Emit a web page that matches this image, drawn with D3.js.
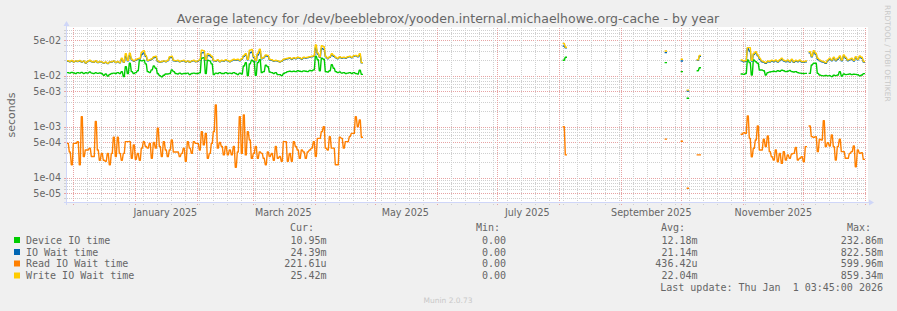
<!DOCTYPE html>
<html>
<head>
<meta charset="utf-8">
<script src="https://cdn.jsdelivr.net/npm/d3@7"></script>
<style>
body { margin: 0; background: #f0f0f0; }
</style>
</head>
<body>
<div class="canvas"></div>
<script>
// daily averages, values in ms (null = no data)
const seg1Start = '2024-11-28';
const deviceSeg1 = [11.5,11.2,11.6,11.3,11.0,11.5, 11.2,11.6,11.0,11.4,11.2,11.8, 11.2,11.0,11.4,11.1,11.3,11.0,
  10.2,10.8,9.8,10.6,11.0,11.2, 11.0,11.5,11.0,12.0,9.6,15.0, 11.0,17.5,12.0,11.0,11.5,12.5,
  20.0,19.5,20.0,17.0,12.0,11.5, 13.0,15.5,14.0,11.0,10.0,9.5, 10.2,10.8,10.8,11.0,13.0,12.0,
  11.0,10.8,11.2,10.8,11.0,11.0, 11.2,10.5,11.0,11.2,11.0,11.0, 11.4,22.0,22.5,11.0,20.0,19.5,
  17.0,10.5,11.2,11.0,11.5,11.0, 11.0,11.5,11.0,11.2,11.0,11.5, 11.0,10.5,11.2,10.8,15.5,18.0,
  10.0,17.0,20.0,19.0,10.2,18.0, 20.5,11.5,12.0,16.0,15.0,11.8, 11.5,11.0,11.5,10.5,10.5,10.0,
  11.0,11.5,12.0,12.2,12.0,12.2, 12.0,12.5,12.2,12.0,12.4,12.2, 12.0,12.6,12.5,13.0,24.0,20.5,
  12.5,22.0,21.0,12.0,11.8,12.5, 16.5,14.0,12.0,11.5,11.8,11.2, 11.5,11.0,11.2,11.5,11.0,11.5,
  11.0,10.8,12.8,10.6];
const ioWaitSeg1 = [19.2,18.8,19.4,18.6,19.2,19.0, 19.4,18.4,19.2,17.6,19.0,19.6, 18.8,18.3,19.2,18.0,18.8,18.4,
  17.6,18.2,17.2,18.4,18.5,19.2, 18.0,18.8,17.8,21.0,18.2,24.0, 19.6,25.0,20.5,19.2,20.0,21.0,
  21.5,26.0,28.0,24.0,19.6,20.0, 21.0,22.5,23.0,19.2,18.2,18.7, 19.2,18.8,19.6,22.5,23.0,19.6,
  19.2,19.6,18.8,19.2,19.6,18.5, 19.2,18.3,19.2,19.6,18.8,19.2, 20.0,28.0,28.5,20.0,25.0,24.5,
  23.0,19.6,19.2,20.0,18.8,19.6, 19.2,20.0,19.5,18.8,19.6,20.5, 20.0,20.5,19.6,21.0,24.0,25.5,
  20.5,28.0,29.0,23.0,19.6,25.5, 29.5,21.5,22.5,24.5,24.0,20.5, 20.0,19.2,19.6,19.2,18.5,19.2,
  20.5,21.0,21.5,22.0,21.0,22.0, 21.5,22.5,22.0,21.0,22.5,22.0, 22.5,23.0,23.5,24.0,35.0,26.5,
  23.0,34.0,33.0,23.5,21.5,23.0, 25.5,24.0,22.5,21.5,23.0,22.0, 22.5,22.0,23.0,23.5,22.5,24.0,
  24.5,23.5,25.0,17.8];
const readSeg1 = [0.47,0.32,0.18,0.47,0.47,0.51,0.18,1.57,0.26,0.35, 0.35,0.38,0.26,0.26,1.26,0.35,0.22,0.30,0.22,0.21,
  0.30,0.18,0.30,0.62,0.26,0.62,0.30,0.22,0.30,0.51, 0.51,0.51,0.24,0.44,0.23,0.30,0.22,0.38,0.51,0.41,
  0.38,0.47,0.24,0.49,0.38,0.93,0.41,0.26,0.51,0.35, 0.26,0.35,0.55,0.32,0.32,0.32,0.26,0.30,0.38,0.21,
  0.51,0.38,0.30,0.51,0.47,0.47,0.35,0.80,0.44,0.74, 0.24,0.30,0.47,0.80,2.66,0.38,0.49,0.41,0.28,0.41,
  0.28,0.35,0.28,0.41,0.16,0.32,1.57,0.30,1.70,0.28, 0.80,0.55,0.24,0.30,0.41,0.24,0.32,0.30,0.24,0.18,
  0.32,0.26,0.30,0.22,0.41,0.24,0.26,0.21,0.51,0.51, 0.21,0.30,0.21,0.51,0.41,0.35,0.24,0.35,0.32,0.24,
  0.32,0.35,0.38,0.51,0.26,0.59,0.59,0.80,1.00,0.38, 0.35,0.64,0.38,0.38,0.18,0.18,0.62,0.59,0.38,0.51,
  0.51,0.64,0.74,0.74,1.57,1.00,1.35,0.62];
const writeSeg1 = [19.6,19.0,19.8,18.8,19.5,19.2, 19.8,18.6,19.5,17.8,19.2,20.0, 19.0,18.5,19.6,18.2,19.0,18.6,
  17.8,18.5,17.4,18.6,18.8,19.5, 18.2,19.0,18.0,22.0,18.5,27.0, 20.0,27.5,21.0,19.5,20.5,21.5,
  22.0,29.0,31.0,25.0,20.0,20.5, 21.5,23.5,24.0,19.5,18.5,19.0, 19.5,19.0,20.0,23.5,24.0,20.0,
  19.5,20.0,19.0,19.5,20.0,18.8, 19.5,18.5,19.5,20.0,19.0,19.5, 20.5,31.5,31.0,20.5,27.0,26.0,
  24.0,20.0,19.5,20.5,19.0,20.0, 19.5,20.5,19.8,19.0,20.0,21.0, 20.5,21.0,20.0,21.5,25.0,27.0,
  21.0,31.5,32.5,24.0,20.0,27.5, 33.0,22.0,23.0,25.5,25.0,21.0, 20.5,19.5,20.0,19.5,18.8,19.5,
  21.0,21.5,22.0,22.5,21.5,22.5, 22.0,23.0,22.5,21.5,23.0,22.5, 23.0,23.5,24.0,24.5,40.0,28.0,
  23.5,38.5,37.0,24.0,22.0,23.5, 27.0,25.0,23.0,22.0,23.5,22.5, 23.0,22.5,23.5,24.0,23.0,24.5,
  25.0,24.0,27.0,18.0];

// scattered single days over the summer
const spotDates = ['2025-08-03','2025-08-04','2025-09-23','2025-10-01','2025-10-04','2025-10-09','2025-10-10'];
const deviceSpots = [20.0, 23.0, 18.0, 12.0, 3.6, 12.5, 14.3];
const ioWaitSpots = [38.0, 35.0, 28.3, 19.4, 5.0, 20.0, 24.0];
const readSpots   = [1.0, 0.28, 0.57, 0.52, 0.062, 0.28, 0.28];
const writeSpots  = [43.0, 36.0, 30.4, 21.0, 5.2, 20.5, 25.0];

const seg2Start = '2025-10-31';
const deviceSeg2 = [10.8,10.6,11.0,20.3,18.0,10.3,20.3,18.8,17.5,12.9,12.9,12.5,10.3,11.5,11.8,12.0,12.2,12.0,12.5,12.2,
  12.8,12.5,12.0,12.2,12.6,12.0,11.8,12.0,11.5,11.2,11.1,11.0,11.1, null,
  11.1,16.2,17.5,17.5,11.1,10.3,10.0,9.9,10.1,9.9,10.0,9.6,10.2,10.0,10.3,12.0,9.8,10.8,10.5,10.6,
  10.8,10.5,10.7,10.6,10.4,9.9,10.3,10.95];
const ioWaitSeg2 = [19.6,18.8,19.2,34.0,30.0,19.4,26.0,28.0,24.5,21.0,18.8,18.2,17.4,18.8,18.4,19.4,18.8,19.6,18.4,19.8,
  21.0,19.4,18.8,19.6,18.4,20.2,18.2,19.4,18.8,19.6,18.4,18.2,18.6, null,
  28.0,23.5,29.0,26.0,21.0,19.6,18.8,18.2,17.4,19.6,21.2,19.6,22.0,19.6,21.0,23.0,19.6,24.0,22.0,19.6,
  20.4,21.2,19.4,22.6,20.4,23.2,22.0,18.4];
const readSeg2 = [0.709,0.764,0.740,1.62,0.591,0.258,0.377,0.549,1.03,0.349,0.349,0.566,0.406,0.657,0.324,0.258,0.222,0.349,0.206,0.300,
  0.191,0.324,0.222,0.279,0.240,0.291,0.300,0.394,0.222,0.240,0.258,0.206,0.406, null,
  1.03,0.638,0.618,0.638,0.324,0.566,0.549,1.31,0.406,0.487,0.419,0.687,0.406,0.222,0.406,0.566,0.324,0.324,0.240,0.240,
  0.300,0.324,0.419,0.164,0.349,0.300,0.309,0.229];
const writeSeg2 = [20.3,19.4,19.8,35.4,35.4,20.0,27.5,29.5,25.5,22.0,19.5,18.8,18.0,19.4,19.0,20.0,19.4,20.3,19.0,20.5,
  22.0,20.0,19.4,20.3,19.0,21.0,18.8,20.0,19.4,20.3,19.0,18.8,19.4, null,
  29.5,24.3,30.9,27.5,22.0,20.3,19.4,18.8,18.0,20.3,22.0,20.3,22.9,20.3,22.0,24.3,20.3,25.5,22.9,20.3,
  21.0,22.0,20.0,23.6,21.0,24.3,22.9,19.0];

const seriesNames = ['Device IO time', 'IO Wait time', 'Read IO Wait time', 'Write IO Wait time'];
const seriesColors = ['#00cc00', '#0066b3', '#ff8000', '#ffcc00'];
const curVals = ['10.95m', '24.39m', '221.61u', '25.42m'];
const minVals = ['0.00', '0.00', '0.00', '0.00'];
const avgVals = ['12.18m', '21.14m', '436.42u', '22.04m'];
const maxVals = ['232.86m', '822.58m', '599.96m', '859.34m'];

const yTicks = [5e-2, 1e-2, 5e-3, 1e-3, 5e-4, 1e-4, 5e-5];
const yTickLabels = ['5e-02', '1e-02', '5e-03', '1e-03', '5e-04', '1e-04', '5e-05'];
const monthLabels = ['2025-01-01', '2025-03-01', '2025-05-01', '2025-07-01', '2025-09-01', '2025-11-01'];

const W = 897, H = 311;
const plotL = 67, plotR = 867, plotT = 28, plotB = 202;
const DAY = 864e5;
const sans = 'DejaVu Sans, sans-serif';
const mono = 'DejaVu Sans Mono, monospace';

const svg = d3.select('.canvas')
  .append('svg')
  .attr('width', W)
  .attr('height', H)
  .style('display', 'block');

svg.append('rect').attr('width', W).attr('height', H).attr('fill', '#f0f0f0');

const x = d3.scaleUtc()
  .domain([new Date(Date.UTC(2024, 10, 27, 20, 24)), new Date(Date.UTC(2026, 0, 1, 20, 24))])
  .range([plotL, plotR]);
const y = d3.scaleLog()
  .domain([3.34e-5, 8.6e-2])
  .range([plotB, plotT]);

// canvas
svg.append('rect')
  .attr('x', plotL).attr('y', plotT - 1)
  .attr('width', plotR - plotL + 1).attr('height', plotB - plotT + 2)
  .attr('fill', '#ffffff');

const grid = svg.append('g').attr('shape-rendering', 'crispEdges');

// horizontal grid
const minorY = [], majorY = [];
for (let e = -5; e <= -2; e++) {
  for (let k = 1; k <= 9; k++) {
    const v = k * Math.pow(10, e);
    if (v < y.domain()[0] || v > y.domain()[1]) continue;
    (k === 1 || k === 5 ? majorY : minorY).push(v);
  }
}
grid.selectAll('.hminor').data(minorY).enter().append('line')
  .attr('x1', plotL).attr('x2', plotR)
  .attr('y1', d => Math.round(y(d)) + 0.5).attr('y2', d => Math.round(y(d)) + 0.5)
  .attr('stroke', '#cfcfcf').attr('stroke-dasharray', '1,1');
grid.selectAll('.hmajor').data(majorY).enter().append('line')
  .attr('x1', plotL).attr('x2', plotR)
  .attr('y1', d => Math.round(y(d)) + 0.5).attr('y2', d => Math.round(y(d)) + 0.5)
  .attr('stroke', '#e7a3a3').attr('stroke-dasharray', '1,1');

// vertical grid: weeks (minor), months (major)
const weeks = d3.utcSunday.range(x.domain()[0], x.domain()[1]);
const months = d3.utcMonth.range(x.domain()[0], x.domain()[1]);
const monthSet = new Set(months.map(d => d.getTime()));
const minorX = weeks.filter(d => !monthSet.has(d.getTime()));
grid.selectAll('.vminor').data(minorX).enter().append('line')
  .attr('x1', d => Math.round(x(d)) + 0.5).attr('x2', d => Math.round(x(d)) + 0.5)
  .attr('y1', plotT).attr('y2', plotB + 3)
  .attr('stroke', '#cfcfcf').attr('stroke-dasharray', '1,1');
grid.selectAll('.vmajor').data(months).enter().append('line')
  .attr('x1', d => Math.round(x(d)) + 0.5).attr('x2', d => Math.round(x(d)) + 0.5)
  .attr('y1', plotT).attr('y2', plotB + 3)
  .attr('stroke', '#e7a3a3').attr('stroke-dasharray', '1,1');

// y ticks on the axis
grid.selectAll('.ytick').data(minorY.concat(majorY)).enter().append('line')
  .attr('x1', plotL - 3).attr('x2', plotL)
  .attr('y1', d => Math.round(y(d)) + 0.5).attr('y2', d => Math.round(y(d)) + 0.5)
  .attr('stroke', d => majorY.includes(d) ? '#e7a3a3' : '#cfcfcf');

// build daily series
function seg(start, vals) {
  const t0 = Date.parse(start + 'T00:00:00Z');
  return vals.map((v, i) => ({ t: t0 + i * DAY, v: v == null ? null : v / 1000 }));
}
function spots(vals) {
  return spotDates.map((s, i) => ({ t: Date.parse(s + 'T00:00:00Z'), v: vals[i] / 1000 }));
}
function series(a, b, c) {
  const byDay = new Map();
  a.concat(b, c).forEach(p => byDay.set(p.t, p.v));
  const t0 = d3.min(a, p => p.t), t1 = d3.max(c, p => p.t);
  const pts = [];
  for (let t = t0; t <= t1; t += DAY) {
    const v = byDay.has(t) ? byDay.get(t) : null;
    // each daily value holds flat for half a step, then slopes to the next one
    pts.push({ t: t, v: v });
    pts.push({ t: t + DAY * 0.5, v: v });
  }
  return pts;
}

const allSeries = [
  series(seg(seg1Start, deviceSeg1), spots(deviceSpots), seg(seg2Start, deviceSeg2)),
  series(seg(seg1Start, ioWaitSeg1), spots(ioWaitSpots), seg(seg2Start, ioWaitSeg2)),
  series(seg(seg1Start, readSeg1), spots(readSpots), seg(seg2Start, readSeg2)),
  series(seg(seg1Start, writeSeg1), spots(writeSpots), seg(seg2Start, writeSeg2))
];

const line = d3.line()
  .defined(d => d.v != null)
  .x(d => x(new Date(d.t)))
  .y(d => y(d.v));

svg.append('g').selectAll('path')
  .data(allSeries)
  .enter()
  .append('path')
  .attr('d', line)
  .attr('fill', 'none')
  .attr('stroke', (d, i) => seriesColors[i])
  .attr('stroke-width', 1.4)
  .attr('stroke-linecap', 'square')
  .attr('stroke-linejoin', 'round');

// axes with arrows
const axisColor = '#cfd6f8';
const axes = svg.append('g').attr('shape-rendering', 'crispEdges');
axes.append('line').attr('x1', plotL - 0.5).attr('x2', plotL - 0.5).attr('y1', plotB + 3).attr('y2', plotT - 4)
  .attr('stroke', axisColor);
axes.append('line').attr('x1', plotL - 3).attr('x2', plotR + 3).attr('y1', plotB + 0.5).attr('y2', plotB + 0.5)
  .attr('stroke', axisColor);
svg.append('path')
  .attr('d', `M${plotL - 3.5},${plotT - 2} L${plotL - 0.5},${plotT - 7} L${plotL + 2.5},${plotT - 2} Z`)
  .attr('fill', axisColor);
svg.append('path')
  .attr('d', `M${plotR + 2},${plotB - 2.5} L${plotR + 7},${plotB + 0.5} L${plotR + 2},${plotB + 3.5} Z`)
  .attr('fill', axisColor);

// y labels
svg.append('g').selectAll('text')
  .data(yTicks)
  .enter()
  .append('text')
  .attr('x', 61)
  .attr('y', d => y(d) + 3.5)
  .attr('text-anchor', 'end')
  .attr('font-family', sans)
  .attr('font-size', 9.6)
  .attr('fill', '#666')
  .text((d, i) => yTickLabels[i]);

// x labels, centred in the month
svg.append('g').selectAll('text')
  .data(monthLabels)
  .enter()
  .append('text')
  .attr('x', d => x(new Date(Date.parse(d + 'T00:00:00Z') + 15 * DAY)))
  .attr('y', 216)
  .attr('text-anchor', 'middle')
  .attr('font-family', sans)
  .attr('font-size', 9.6)
  .attr('fill', '#666')
  .text(d => d3.utcFormat('%B %Y')(new Date(d + 'T00:00:00Z')));

// title
svg.append('text')
  .attr('x', 448).attr('y', 23)
  .attr('text-anchor', 'middle')
  .attr('font-family', sans)
  .attr('font-size', 12.5)
  .attr('fill', '#666')
  .text('Average latency for /dev/beeblebrox/yooden.internal.michaelhowe.org-cache - by year');

svg.append('text')
  .attr('transform', `translate(15,${(plotT + plotB) / 2}) rotate(-90)`)
  .attr('text-anchor', 'middle')
  .attr('font-family', sans)
  .attr('font-size', 11)
  .attr('fill', '#666')
  .text('seconds');

svg.append('text')
  .attr('transform', 'translate(885,5) rotate(90)')
  .attr('font-family', sans)
  .attr('font-size', 7.5)
  .attr('fill', '#c8c8c8')
  .text('RRDTOOL / TOBI OETIKER');

// legend
const legend = svg.append('g')
  .attr('font-family', mono)
  .attr('font-size', 10)
  .attr('fill', '#666');

const headers = [['Cur:', 290], ['Min:', 476], ['Avg:', 661], ['Max:', 847]];
headers.forEach(h => legend.append('text').attr('x', h[1]).attr('y', 231).text(h[0]));

const rowY = [240, 252, 263.5, 275.5];
const cols = [[curVals, 326.5], [minVals, 506], [avgVals, 697.5], [maxVals, 883]];
seriesNames.forEach((name, i) => {
  legend.append('rect')
    .attr('x', 14).attr('y', rowY[i] - 3)
    .attr('width', 6).attr('height', 6)
    .attr('fill', seriesColors[i]);
  legend.append('text').attr('x', 26).attr('y', rowY[i] + 3.5).text(name);
  cols.forEach(c => {
    legend.append('text')
      .attr('x', c[1]).attr('y', rowY[i] + 3.5)
      .attr('text-anchor', 'end')
      .text(c[0][i]);
  });
});

legend.append('text')
  .attr('x', 883).attr('y', 291)
  .attr('text-anchor', 'end')
  .style('white-space', 'pre')
  .text('Last update: Thu Jan  1 03:45:00 2026');

svg.append('text')
  .attr('x', 448).attr('y', 303)
  .attr('text-anchor', 'middle')
  .attr('font-family', sans)
  .attr('font-size', 7.5)
  .attr('fill', '#c8c8c8')
  .text('Munin 2.0.73');
</script>
</body>
</html>
